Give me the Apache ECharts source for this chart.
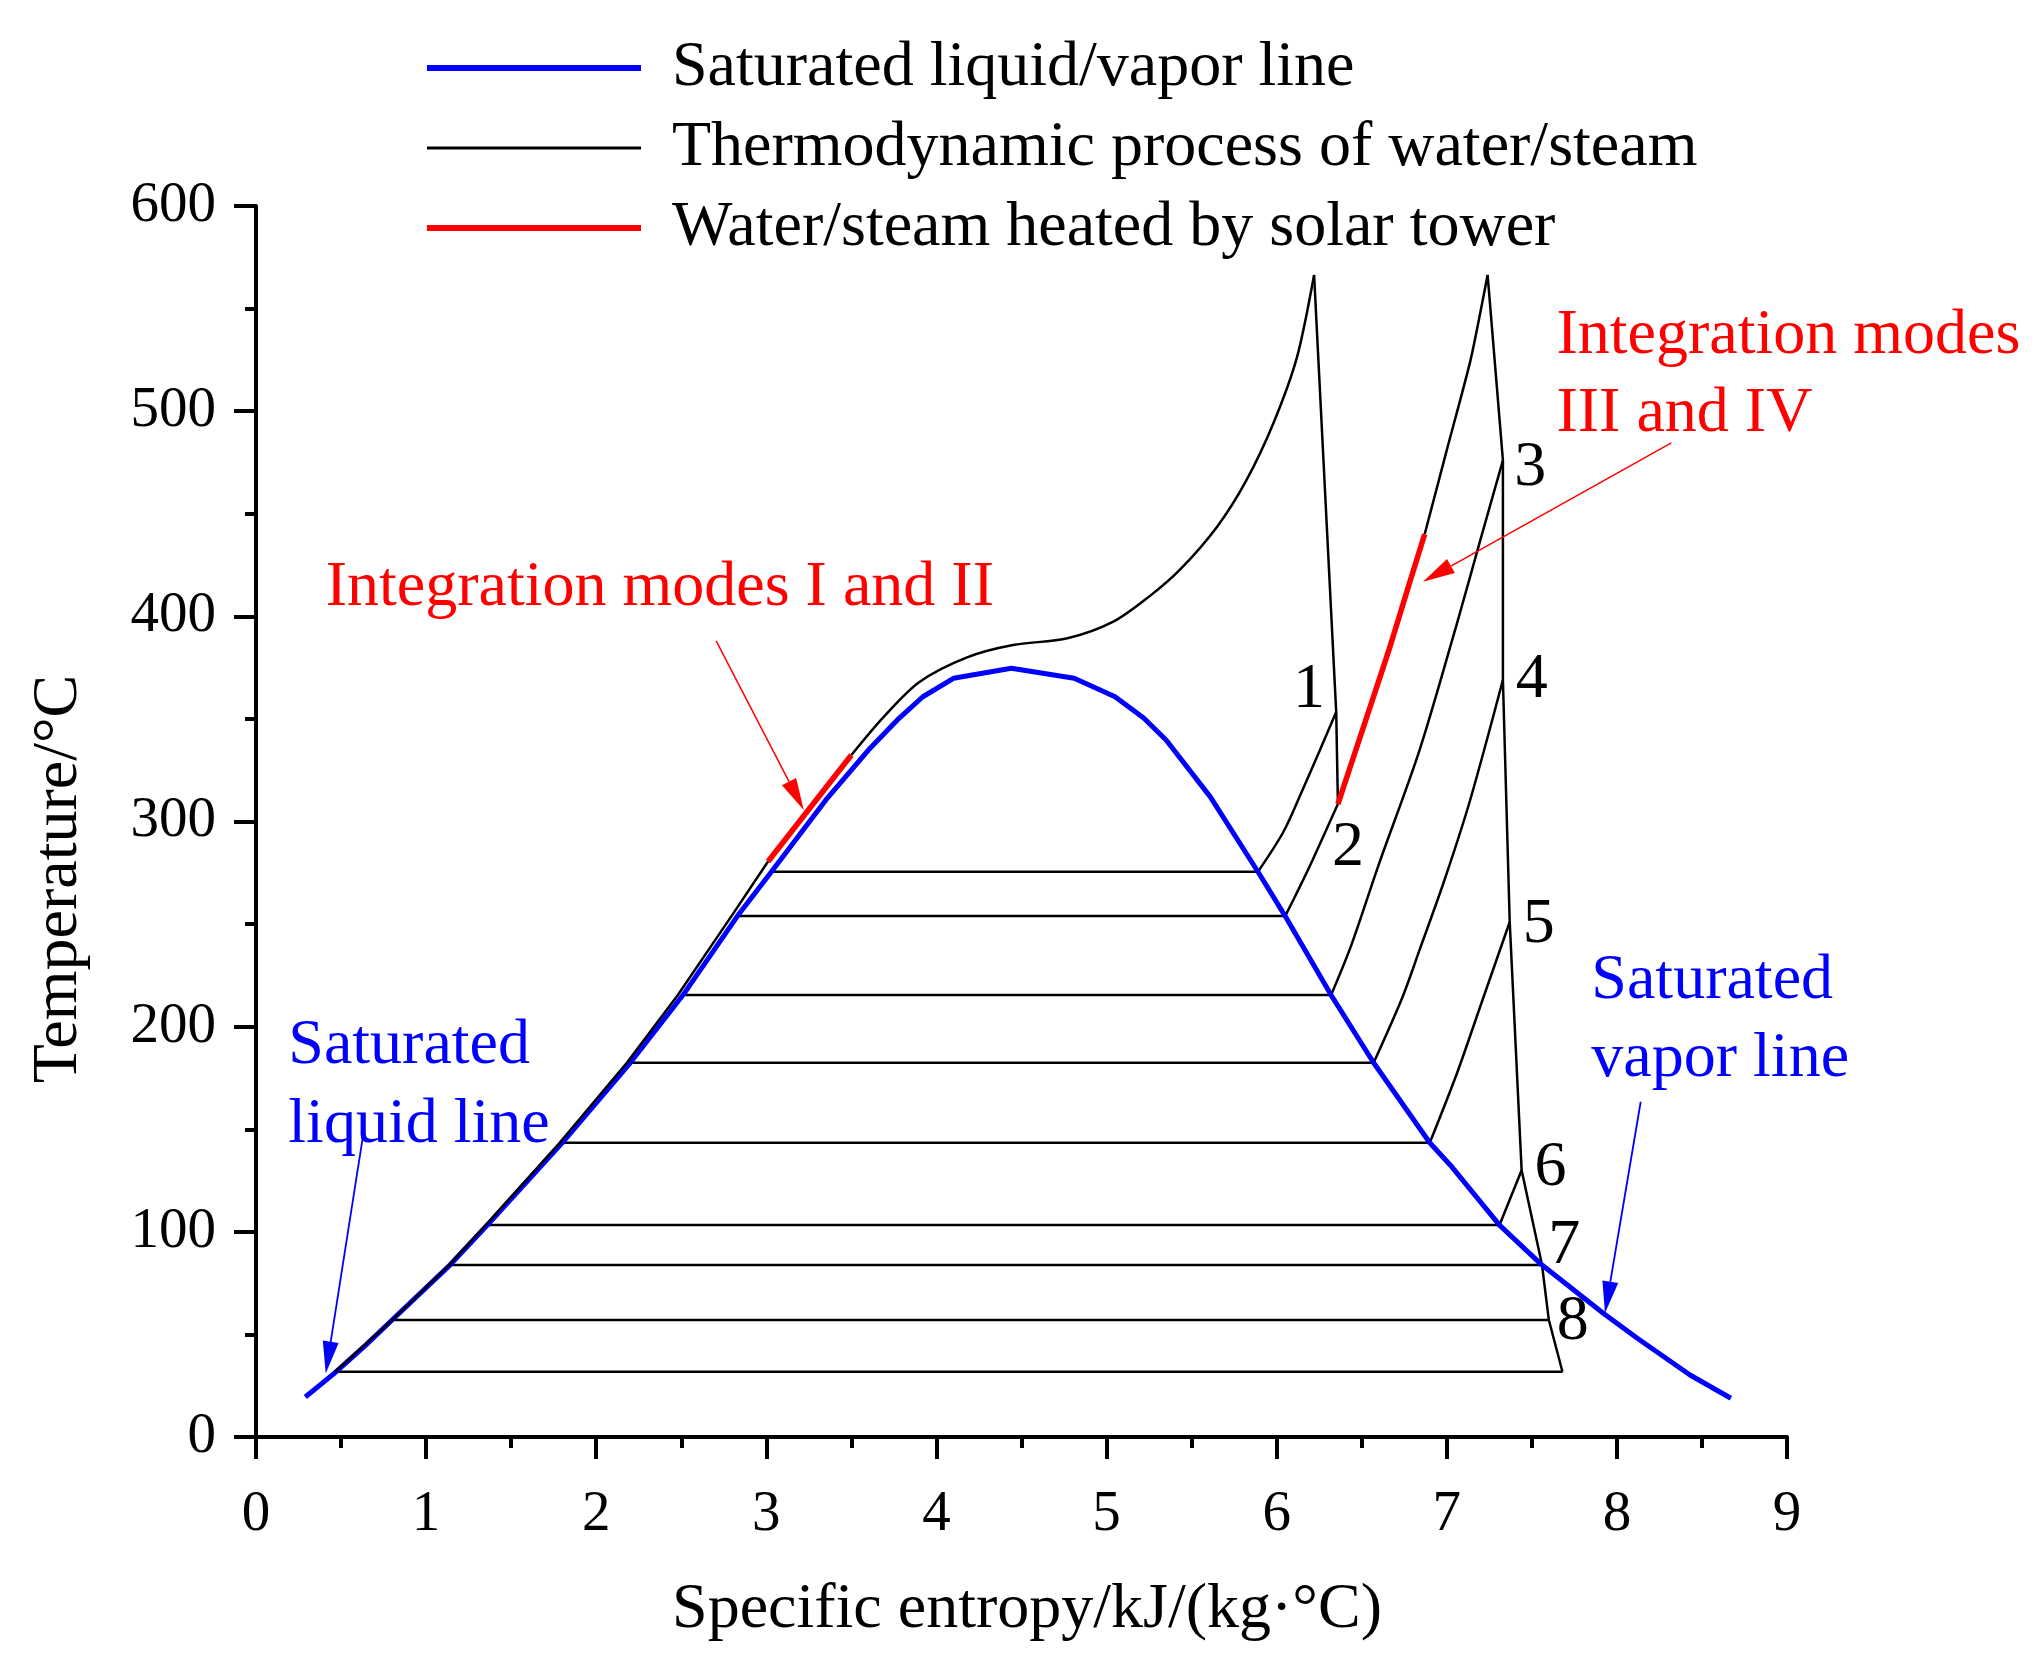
<!DOCTYPE html>
<html>
<head>
<meta charset="utf-8">
<script src="https://cdn.jsdelivr.net/npm/echarts@6/dist/echarts.min.js"></script>
<style>
  html, body { margin: 0; padding: 0; background: #fff; }
  #chart { width: 2041px; height: 1666px; }
</style>
</head>
<body>
<div id="chart"></div>
<script>
// T-s diagram of the water/steam cycle
var FONT = '"Liberation Serif", "Times New Roman", serif';

// saturated liquid / vapor line  [s, T]
var satLine = [[0.29,19.5],[0.46,31],[0.645,44.8],[0.80,57],[1.14,83.8],[1.36,103.3],[1.80,143.4],
  [2.20,182.4],[2.51,215.4],[2.83,253.9],[3.03,275.5],[3.35,310.5],[3.60,334.8],[3.78,350.3],
  [3.92,360.8],[4.10,369.8],[4.44,374.7],[4.81,369.8],[5.05,360.8],[5.22,350.3],[5.35,339.7],
  [5.61,312],[5.89,275.5],[6.05,253.9],[6.32,215.4],[6.57,182.4],[6.90,143.4],[7.02,132.6],
  [7.31,103.3],[7.56,83.8],[7.92,60.3],[8.12,48.1],[8.43,30.2],[8.67,18.9]];

// feedwater heating + boiler
var boilerLow = [[0.465,31.8],[0.80,57],[1.135,83.8],[1.35,103.3],[1.785,143.4],[2.18,182.4],
  [2.48,215.4],[2.795,253.9],[3.01,280.5]];
var solarLow = [[3.01,280.5],[3.50,332.4]];
var boilerHigh = [[3.50,332.4],[3.69,351],[3.90,368],[4.18,380],[4.45,386],[4.77,389.3],
  [5.04,397.4],[5.25,409.6],[5.43,422.6],[5.65,443.7],[5.82,466],[5.98,494],[6.12,526.5],[6.22,566.4]];

// HP turbine, reheat, IP/LP turbine
var hpTurbine = [[6.22,566.4],[6.35,353.4],[6.36,308.5]];
var solarReheat = [[6.36,308.5],[6.53,351],[6.66,383.6],[6.78,416],[6.87,440]];
var reheat = [[6.87,440],[7.00,481],[7.14,525],[7.24,566.4]];
var lpTurbine = [[7.24,566.4],[7.33,476],[7.33,369],[7.37,251],[7.44,130],[7.56,83.8],[7.60,57],[7.68,31.8]];

// extraction steam cooling to saturation
var extr1 = [[6.35,353.4],[6.25,334],[6.15,315],[6.04,295],[5.89,275.5]];
var extr2 = [[6.36,308.5],[6.21,281],[6.135,268],[6.05,253.9]];
var extr3 = [[7.33,476],[7.20,438],[7.06,396.6],[6.84,334.8],[6.60,279],[6.44,240],[6.32,215.4]];
var extr4 = [[7.33,369],[7.23,338],[7.12,305.6],[6.98,269.9],[6.84,237.4],[6.74,214.5],[6.57,182.4]];
var extr5 = [[7.37,251],[7.21,213],[7.06,177.3],[6.90,143.4]];
var extr6 = [[7.44,130],[7.31,103.3]];

// condensation plateaus
var plateauT = [275.5,253.9,215.4,182.4,143.4,103.3,83.8,57.0,31.8];
var plateauLeft = [3.03,2.83,2.51,2.20,1.80,1.36,1.14,0.80,0.465];
var plateauRight = [5.89,6.05,6.32,6.57,6.90,7.31,7.56,7.60,7.68];

// point numbers
var pointNames = ['1','2','3','4','5','6','7','8'];
var pointPos = [[6.19,364],[6.42,287],[7.49,472],[7.50,369],[7.54,249.5],[7.61,131],[7.69,92.8],[7.74,56.2]];

var NAME_SAT = 'Saturated liquid/vapor line';
var NAME_PROC = 'Thermodynamic process of water/steam';
var NAME_SOLAR = 'Water/steam heated by solar tower';

function blackLine(data, smooth, z) {
  return {
    name: NAME_PROC, type: 'line', data: data, symbol: 'none', smooth: smooth || false,
    lineStyle: { color: '#000', width: 2.5 }, itemStyle: { color: '#000' }, z: z || 2
  };
}

var series = [];
series.push(blackLine(boilerLow, false, 4));
series.push(blackLine(boilerHigh, 0.3));
series.push(blackLine(hpTurbine));
series.push(blackLine(reheat, 0.2));
series.push(blackLine(lpTurbine));
[extr1, extr2, extr3, extr4, extr5, extr6].forEach(function (e) {
  series.push(blackLine(e, 0.3));
});
for (var i = 0; i < plateauT.length; i++) {
  series.push(blackLine([[plateauLeft[i], plateauT[i]], [plateauRight[i], plateauT[i]]]));
}
series.push({
  name: NAME_SAT, type: 'line', data: satLine, symbol: 'none',
  lineStyle: { color: '#0000ff', width: 5 }, itemStyle: { color: '#0000ff' }, z: 3
});
series.push({
  name: NAME_SOLAR, type: 'line', data: solarLow, symbol: 'none',
  lineStyle: { color: '#ff0000', width: 5.5 }, itemStyle: { color: '#ff0000' }, z: 5
});
series.push({
  name: NAME_SOLAR, type: 'line', data: solarReheat, symbol: 'none', smooth: 0.2,
  lineStyle: { color: '#ff0000', width: 5.5 }, itemStyle: { color: '#ff0000' }, z: 5
});

var chart = echarts.init(document.getElementById('chart'));
chart.setOption({
  animation: false,
  backgroundColor: '#fff',
  textStyle: { fontFamily: FONT },
  grid: { left: 256, right: 254, top: 206, bottom: 229, containLabel: false, outerBoundsMode: 'none' },
  legend: {
    data: [
      { name: NAME_SAT, icon: 'path://M0,0H214V6H0Z' },
      { name: NAME_PROC, icon: 'path://M0,0H214V3H0Z' },
      { name: NAME_SOLAR, icon: 'path://M0,0H214V6H0Z' }
    ],
    orient: 'vertical', left: 422, top: 31,
    itemWidth: 214, itemHeight: 20, itemGap: 16,
    symbolKeepAspect: true,
    itemStyle: { borderWidth: 0 },
    textStyle: { fontFamily: FONT, fontSize: 64, color: '#000', padding: [0, 0, 0, 26] },
    selectedMode: false
  },
  xAxis: {
    type: 'value', min: 0, max: 9, interval: 1,
    axisLine: { show: true, onZero: false, lineStyle: { color: '#000', width: 4 } },
    axisTick: { show: true, inside: false, length: 22, lineStyle: { color: '#000', width: 4 } },
    minorTick: { show: true, splitNumber: 2, length: 11, lineStyle: { color: '#000', width: 4 } },
    axisLabel: { fontFamily: FONT, fontSize: 57, color: '#000', margin: 50 },
    splitLine: { show: false }
  },
  yAxis: {
    type: 'value', min: 0, max: 600, interval: 100,
    axisLine: { show: true, onZero: false, lineStyle: { color: '#000', width: 4 } },
    axisTick: { show: true, inside: false, length: 22, lineStyle: { color: '#000', width: 4 } },
    minorTick: { show: true, splitNumber: 2, length: 11, lineStyle: { color: '#000', width: 4 } },
    axisLabel: { fontFamily: FONT, fontSize: 57, color: '#000', margin: 40 },
    splitLine: { show: false }
  },
  series: series
});

// annotations placed in data coordinates
function px(p) { return chart.convertToPixel({ gridIndex: 0 }, p); }

function textEl(str, p, color, align) {
  var q = px(p);
  return {
    type: 'text', x: q[0], y: q[1], z: 10,
    style: { text: str, font: '64px ' + FONT, fill: color, textAlign: align || 'left', textVerticalAlign: 'middle' }
  };
}

function arrowEls(from, to, color, width) {
  var a = px(from), b = px(to);
  var dx = b[0] - a[0], dy = b[1] - a[1];
  var len = Math.sqrt(dx * dx + dy * dy);
  var ux = dx / len, uy = dy / len;
  var L = 32, W = 8;
  var bx = b[0] - ux * L, by = b[1] - uy * L;
  return [
    { type: 'line', z: 10, shape: { x1: a[0], y1: a[1], x2: bx, y2: by }, style: { stroke: color, lineWidth: width } },
    { type: 'polygon', z: 10, shape: { points: [[b[0], b[1]], [bx - uy * W, by + ux * W], [bx + uy * W, by - ux * W]] },
      style: { fill: color } }
  ];
}

var graphics = [];
for (var k = 0; k < pointNames.length; k++) {
  graphics.push(textEl(pointNames[k], pointPos[k], '#000', 'center'));
}
graphics.push(textEl('Integration modes I and II', [0.41, 413.5], '#ff0000'));
graphics.push(textEl('Integration modes', [7.645, 536.6], '#ff0000'));
graphics.push(textEl('III and IV', [7.645, 498.3], '#ff0000'));
graphics.push(textEl('Saturated', [0.19, 190.4], '#0000ff'));
graphics.push(textEl('liquid line', [0.19, 152.1], '#0000ff'));
graphics.push(textEl('Saturated', [7.85, 222.3], '#0000ff'));
graphics.push(textEl('vapor line', [7.85, 184], '#0000ff'));
graphics = graphics.concat(arrowEls([2.705, 388], [3.22, 305.6], '#ff0000', 1.5));
graphics = graphics.concat(arrowEls([8.32, 484.5], [6.86, 416.9], '#ff0000', 1.5));
graphics = graphics.concat(arrowEls([0.627, 145.7], [0.41, 31], '#0000ff', 1.8));
graphics = graphics.concat(arrowEls([8.14, 163.4], [7.93, 60.3], '#0000ff', 1.8));

// axis titles
graphics.push({
  type: 'text', x: 1027, y: 1610, z: 10,
  style: { text: 'Specific entropy/kJ/(kg·°C)', font: '64px ' + FONT, fill: '#000', textAlign: 'center', textVerticalAlign: 'middle' }
});
graphics.push({
  type: 'text', x: 59, y: 879, rotation: Math.PI / 2, z: 10,
  style: { text: 'Temperature/°C', font: '64px ' + FONT, fill: '#000', textAlign: 'center', textVerticalAlign: 'middle' }
});

chart.setOption({ graphic: graphics });
</script>
</body>
</html>
